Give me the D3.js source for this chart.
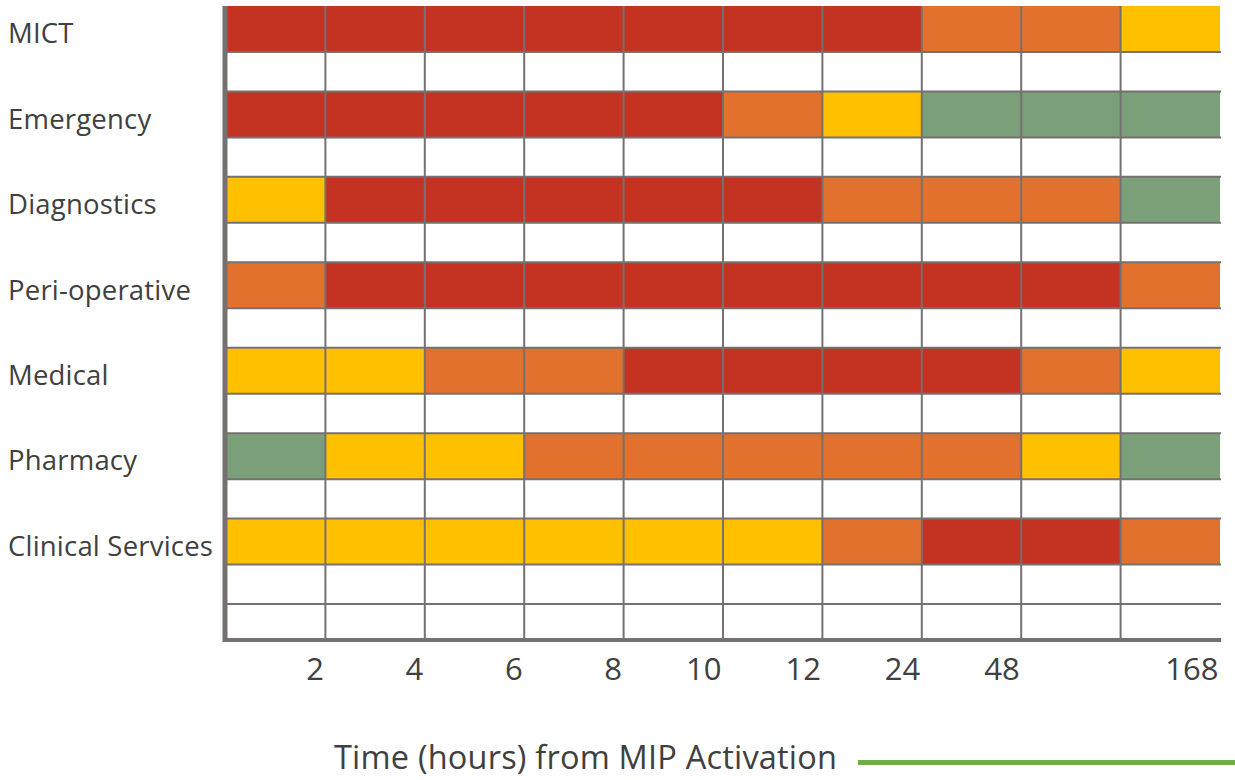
<!DOCTYPE html>
<html>
<head>
<meta charset="utf-8">
<script src="https://cdn.jsdelivr.net/npm/d3@7/dist/d3.min.js"></script>
<style>
  html, body { margin: 0; padding: 0; background: #fff; }
  svg { display: block; font-family: "Open Sans", sans-serif; }
</style>
</head>
<body>
<svg id="chart" width="1235" height="780"></svg>
<script>
// ---- Data ----
const categories = ["MICT", "Emergency", "Diagnostics", "Peri-operative", "Medical", "Pharmacy", "Clinical Services"];
const tickLabels = ["2", "4", "6", "8", "10", "12", "24", "48", "", "168"];
// status levels per time column: 4 = red, 3 = orange, 2 = yellow, 1 = green
const mictStatus        = [4, 4, 4, 4, 4, 4, 4, 3, 3, 2];
const emergencyStatus   = [4, 4, 4, 4, 4, 3, 2, 1, 1, 1];
const diagnosticsStatus = [2, 4, 4, 4, 4, 4, 3, 3, 3, 1];
const periopStatus      = [3, 4, 4, 4, 4, 4, 4, 4, 4, 3];
const medicalStatus     = [2, 2, 3, 3, 4, 4, 4, 4, 3, 2];
const pharmacyStatus    = [1, 2, 2, 3, 3, 3, 3, 3, 2, 1];
const clinicalStatus    = [2, 2, 2, 2, 2, 2, 3, 4, 4, 3];
const statusRows = [mictStatus, emergencyStatus, diagnosticsStatus, periopStatus, medicalStatus, pharmacyStatus, clinicalStatus];
const axisTitle = "Time (hours) from MIP Activation";

// ---- Layout ----
const svg = d3.select("#chart");
const mLeft = 226, mRight = 1220, mTop = 6, bandBottom = 604, mBottom = 640;
const gridColor = "#767171";
const textColor = "#404040";

const x = d3.scaleBand().domain(d3.range(tickLabels.length)).range([mLeft, mRight]).paddingInner(0).paddingOuter(0);
const y = d3.scaleBand().domain(categories).range([mTop, bandBottom]).paddingInner(0).paddingOuter(0);
const barH = y.bandwidth() * 46 / 85.4;
const color = d3.scaleOrdinal().domain([1, 2, 3, 4]).range(["#7A9F79", "#FFC000", "#E2712D", "#C43222"]);

const cells = [];
categories.forEach((c, i) => statusRows[i].forEach((v, j) => cells.push({ cat: c, col: j, v })));

// bars
svg.append("g").selectAll("rect").data(cells).join("rect")
  .attr("x", d => x(d.col))
  .attr("y", d => y(d.cat))
  .attr("width", x.bandwidth())
  .attr("height", barH)
  .attr("fill", d => color(d.v));

// horizontal grid lines
const hLines = [];
categories.forEach(c => { hLines.push(y(c) + barH); hLines.push(y(c) + y.bandwidth()); });
svg.append("g").selectAll("line").data(hLines).join("line")
  .attr("x1", mLeft).attr("x2", mRight + 1)
  .attr("y1", d => d).attr("y2", d => d)
  .attr("stroke", gridColor).attr("stroke-width", 2);

// vertical grid lines (interior boundaries)
const vBounds = d3.range(1, tickLabels.length).map(i => x(i));
svg.append("g").selectAll("line").data(vBounds).join("line")
  .attr("x1", d => d).attr("x2", d => d)
  .attr("y1", mTop).attr("y2", mBottom)
  .attr("stroke", gridColor).attr("stroke-width", 2);

// axes lines (thick)
svg.append("line").attr("x1", mLeft - 1).attr("x2", mLeft - 1).attr("y1", mTop).attr("y2", mBottom + 2)
  .attr("stroke", gridColor).attr("stroke-width", 5);
svg.append("line").attr("x1", mLeft - 3).attr("x2", mRight + 1).attr("y1", mBottom).attr("y2", mBottom)
  .attr("stroke", gridColor).attr("stroke-width", 4);

// category labels
svg.append("g").selectAll("text").data(categories).join("text")
  .attr("x", 8)
  .attr("y", d => y(d) + 37.3)
  .attr("font-size", 27.5)
  .attr("letter-spacing", 0.2)
  .attr("fill", textColor)
  .text(d => d);

// x tick labels at right edge of each column
const xb = d3.scaleLinear().domain([0, tickLabels.length]).range([mLeft, mRight]);
const xAxis = d3.axisBottom(xb).tickValues(d3.range(1, tickLabels.length + 1)).tickSize(0)
  .tickFormat(d => tickLabels[d - 1]);
const gx = svg.append("g").attr("transform", `translate(0, ${mBottom})`).call(xAxis);
gx.select(".domain").remove();
gx.selectAll("text")
  .attr("text-anchor", "end")
  .attr("dx", -2)
  .attr("y", 0)
  .attr("dy", 39.5)
  .attr("font-family", "Open Sans, sans-serif")
  .attr("font-size", 31)
  .attr("fill", textColor);

// axis title with green line
svg.append("text").attr("x", 334).attr("y", 768.5)
  .attr("font-size", 32.5).attr("letter-spacing", 0.2).attr("fill", textColor).text(axisTitle);
svg.append("line").attr("x1", 858).attr("x2", 1235).attr("y1", 762.5).attr("y2", 762.5)
  .attr("stroke", "#70AD47").attr("stroke-width", 5);
</script>
</body>
</html>
